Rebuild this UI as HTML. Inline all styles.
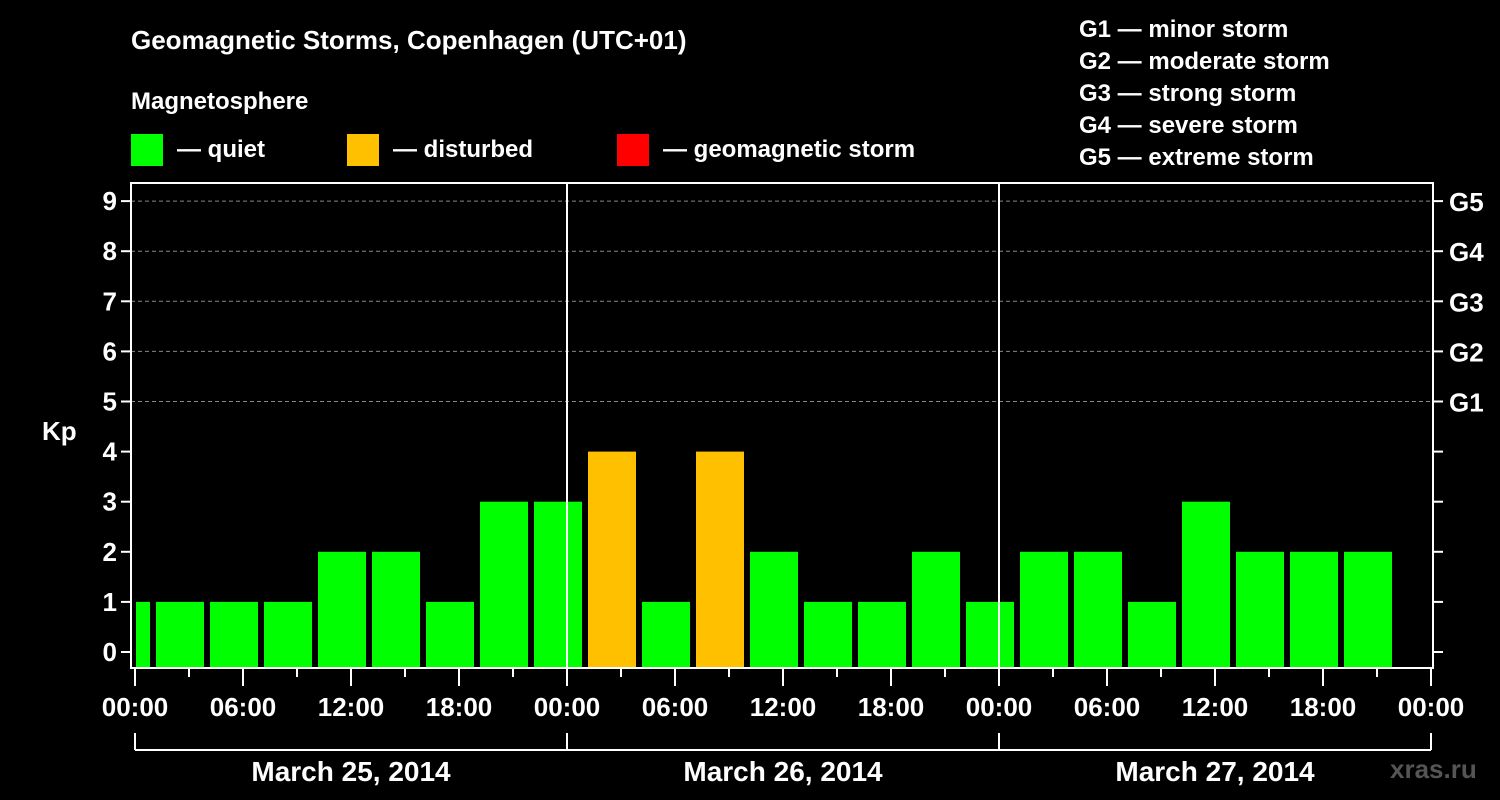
<!DOCTYPE html>
<html><head><meta charset="utf-8"><style>
body{margin:0;background:#000;}
svg{display:block;font-family:"Liberation Sans",sans-serif;font-weight:bold;}
</style></head><body>
<svg id="c" width="1500" height="800" viewBox="0 0 1500 800">
<rect width="1500" height="800" fill="#000"/>
<text x="131" y="49" fill="#fff" font-size="26">Geomagnetic Storms, Copenhagen (UTC+01)</text>
<text x="131" y="109" fill="#fff" font-size="24">Magnetosphere</text>
<g><rect x="131" y="134" width="32" height="32" fill="#00ff00"/><text x="177" y="157" fill="#fff" font-size="24">— quiet</text></g>
<g><rect x="347" y="134" width="32" height="32" fill="#ffc000"/><text x="393" y="157" fill="#fff" font-size="24">— disturbed</text></g>
<g><rect x="617" y="134" width="32" height="32" fill="#ff0000"/><text x="663" y="157" fill="#fff" font-size="24">— geomagnetic storm</text></g>
<g fill="#fff" font-size="24">
<text x="1079" y="37">G1 — minor storm</text>
<text x="1079" y="69">G2 — moderate storm</text>
<text x="1079" y="101">G3 — strong storm</text>
<text x="1079" y="133">G4 — severe storm</text>
<text x="1079" y="165">G5 — extreme storm</text>
</g>
<text x="42" y="440" fill="#fff" font-size="26">Kp</text>
<text x="1390" y="778" fill="#555" font-size="26">xras.ru</text>
<g id="grid"></g><g id="bars"></g><g id="axes"></g>
</svg>
<script>
const kpValues=[1,1,1,1,2,2,1,3,3,4,1,4,2,1,1,2,1,2,2,1,3,2,2,2];
const barStartHours=[-2,1,4,7,10,13,16,19,22,25,28,31,34,37,40,43,46,49,52,55,58,61,64,67];
const dayLabels=["March 25, 2014","March 26, 2014","March 27, 2014"];
const gLabels=["G1","G2","G3","G4","G5"];
const NS="http://www.w3.org/2000/svg";
const X0=135,PXH=18,Y0=652,PXK=50.1,PL=131,PR=1433,PT=183,PB=668;
const xs=h=>X0+h*PXH, ys=k=>Y0-k*PXK;
function mk(tag,attrs,parent,text){const e=document.createElementNS(NS,tag);for(const k in attrs)e.setAttribute(k,attrs[k]);if(text!==undefined)e.textContent=text;parent.appendChild(e);return e;}
const grid=document.getElementById('grid'),bars=document.getElementById('bars'),axes=document.getElementById('axes');
for(let k=5;k<=9;k++){const l=mk('line',{x1:PL,x2:PR,y1:ys(k),y2:ys(k),stroke:'#888','stroke-dasharray':'4,3','stroke-width':1},grid);

}
kpValues.forEach((v,i)=>{let a=xs(barStartHours[i])+3,b=xs(barStartHours[i]+3)-3;a=Math.max(a,PL+5);b=Math.min(b,PR-2);
const c=v>=5?'#ff0000':(v>=4?'#ffc000':'#00ff00');
const r=mk('rect',{x:a,y:ys(v),width:b-a,height:PB-1-ys(v),fill:c},bars);

});
for(let d=1;d<=2;d++){const l=mk('line',{x1:xs(24*d),x2:xs(24*d),y1:PT,y2:PB,stroke:'#fff','stroke-width':2},axes);

}
const fr=mk('rect',{x:PL,y:PT,width:PR-PL,height:PB-PT,fill:'none',stroke:'#fff','stroke-width':2},axes);


for(let k=0;k<=9;k++){mk('line',{x1:PL-10,x2:PL,y1:ys(k),y2:ys(k),stroke:'#fff','stroke-width':2},axes);
mk('line',{x1:PR,x2:PR+10,y1:ys(k),y2:ys(k),stroke:'#fff','stroke-width':2},axes);
const t=mk('text',{x:PL-14,y:ys(k)+9,fill:'#fff','font-size':26,'text-anchor':'end'},axes,String(k));


if(k>=5){const g=mk('text',{x:1449,y:ys(k)+10,fill:'#fff','font-size':26},axes,gLabels[k-5]);

}}
for(let h=0;h<=72;h+=3){const major=h%6===0;mk('line',{x1:xs(h),x2:xs(h),y1:PB,y2:major?686:677,stroke:'#fff','stroke-width':2},axes);
if(major){const t=mk('text',{x:xs(h),y:716,fill:'#fff','font-size':26,'text-anchor':'middle'},axes,String(h%24).padStart(2,'0')+':00');

}}
mk('line',{x1:xs(0),x2:xs(72),y1:750,y2:750,stroke:'#fff','stroke-width':2},axes);
for(let d=0;d<=3;d++)mk('line',{x1:xs(24*d),x2:xs(24*d),y1:733,y2:750,stroke:'#fff','stroke-width':2},axes);
dayLabels.forEach((s,i)=>{const t=mk('text',{x:xs(24*i+12),y:781,fill:'#fff','font-size':28,'text-anchor':'middle'},axes,s);

});
</script>
</body></html>
